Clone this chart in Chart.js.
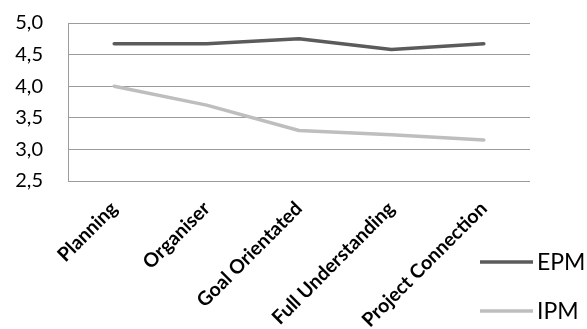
<!DOCTYPE html>
<html>
<head>
<meta charset="utf-8">
<script src="https://cdn.jsdelivr.net/npm/chart.js@4/dist/chart.umd.min.js"></script>
<style>
  html, body { margin: 0; padding: 0; background: #fff; }
  #wrap { width: 587px; height: 329px; position: relative; }
</style>
</head>
<body>
<div id="wrap"><canvas id="chart"></canvas></div>
<script>
// Categories and series
const categories = ['Planning', 'Organiser', 'Goal Orientated', 'Full Understanding', 'Project Connection'];
const epmValues = [4.67, 4.67, 4.75, 4.58, 4.67];
const ipmValues = [4.0, 3.7, 3.3, 3.23, 3.15];
const seriesNames = ['EPM', 'IPM'];
const yTickLabels = ['2,5', '3,0', '3,5', '4,0', '4,5', '5,0'];

const FONT = 'Lato, "Open Sans", sans-serif';
const GRID = '#9c9c9c';

// Legend drawn as stacked line samples at the lower right
const sideLegend = {
  id: 'sideLegend',
  afterDraw(chart) {
    const ctx = chart.ctx;
    const x0 = 480, x1 = 533, ys = [262, 311];
    ctx.save();
    chart.data.datasets.forEach((ds, i) => {
      ctx.strokeStyle = ds.borderColor;
      ctx.lineWidth = 3.5;
      ctx.beginPath();
      ctx.moveTo(x0, ys[i]);
      ctx.lineTo(x1, ys[i]);
      ctx.stroke();
      ctx.fillStyle = '#000';
      ctx.font = '23px ' + FONT;
      ctx.textAlign = 'left';
      ctx.textBaseline = 'middle';
      ctx.fillText(ds.label, x1 + 4, ys[i] + 1);
    });
    ctx.restore();
  }
};

new Chart(document.getElementById('chart'), {
  type: 'line',
  data: {
    labels: categories,
    datasets: [
      { label: seriesNames[0], data: epmValues, borderColor: '#5b5b5b', backgroundColor: '#5b5b5b' },
      { label: seriesNames[1], data: ipmValues, borderColor: '#bebebe', backgroundColor: '#bebebe' }
    ]
  },
  options: {
    responsive: true,
    maintainAspectRatio: false,
    animation: false,
    layout: { padding: { top: 23, right: 57, left: 0, bottom: 0 } },
    elements: {
      line: { borderWidth: 3.5, tension: 0, borderCapStyle: 'round', borderJoinStyle: 'round' },
      point: { radius: 0, hoverRadius: 0 }
    },
    plugins: { legend: { display: false }, tooltip: { enabled: false } },
    scales: {
      x: {
        offset: true,
        grid: { display: false, drawTicks: false },
        border: { display: false },
        ticks: {
          color: '#000',
          font: { family: FONT, size: 19.5, weight: 'bold' },
          maxRotation: 45, minRotation: 45,
          padding: 16,
          autoSkip: false
        },
        afterFit(scale) { scale.height = 148; }
      },
      y: {
        min: 2.5, max: 5.0,
        grid: { color: GRID, lineWidth: 1, drawTicks: false },
        border: { display: true, color: GRID, width: 1 },
        ticks: {
          stepSize: 0.5,
          color: '#000',
          padding: 25,
          font: { family: FONT, size: 20 },
          callback: (v, i) => yTickLabels[i]
        },
        afterFit(scale) {
          scale.width = 68;
          scale.paddingTop = 0;
          scale.paddingBottom = 0;
        }
      }
    }
  },
  plugins: [sideLegend]
});
</script>
</body>
</html>
